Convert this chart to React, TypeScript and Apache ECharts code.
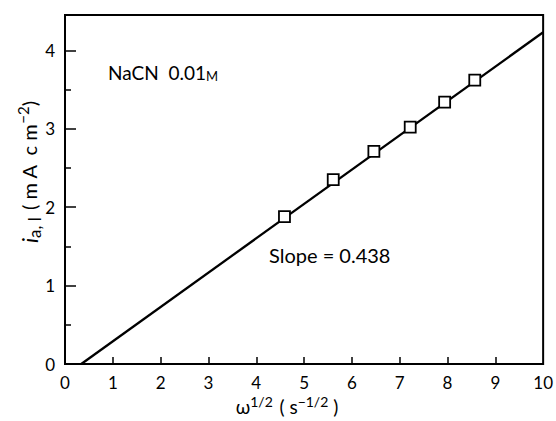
import React, { useEffect, useRef } from "react";
import * as echarts from "echarts";

const xTicks = [0, 1, 2, 3, 4, 5, 6, 7, 8, 9, 10];
const yTicks = [0, 1, 2, 3, 4];
const yHalfTicks = [0.5, 1.5, 2.5, 3.5];
const pointsX = [4.59, 5.61, 6.46, 7.22, 7.94, 8.57];
const pointsY = [1.88, 2.35, 2.71, 3.02, 3.34, 3.62];
const fitLineX = [0.34, 10];
const fitLineY = [0, 4.23];

const FONT = "Lato";

export default function App() {
  const ref = useRef<HTMLDivElement>(null);
  useEffect(() => {
    if (!ref.current) return;
    const chart = echarts.init(ref.current, null, { renderer: "svg" });
    const grid = { left: 65, right: 10, top: 15, bottom: 57, show: true, borderColor: "#000", borderWidth: 2, backgroundColor: "transparent" };
    chart.setOption({
      animation: false,
      backgroundColor: "#fff",
      textStyle: { fontFamily: FONT },
      grid,
      xAxis: {
        type: "value",
        min: 0,
        max: 10,
        interval: 1,
        splitLine: { show: false },
        axisLine: { lineStyle: { color: "#000", width: 2 } },
        axisTick: { inside: true, length: 7, lineStyle: { color: "#000", width: 1.5 }, customValues: xTicks.slice(1, -1) },
        axisLabel: { color: "#000", fontSize: 17, margin: 10, fontFamily: FONT, customValues: xTicks },
      },
      yAxis: [
        {
          type: "value",
          min: 0,
          max: 4.45,
          interval: 1,
          splitLine: { show: false },
          axisLine: { lineStyle: { color: "#000", width: 2 } },
          axisTick: { inside: true, length: 11, lineStyle: { color: "#000", width: 1.5 }, customValues: yTicks.slice(1) },
          axisLabel: { color: "#000", fontSize: 17, margin: 10, fontFamily: FONT, customValues: yTicks },
        },
        {
          type: "value",
          min: 0,
          max: 4.45,
          position: "left",
          splitLine: { show: false },
          axisLine: { show: false },
          axisTick: { inside: true, length: 6, lineStyle: { color: "#000", width: 1.5 }, customValues: yHalfTicks },
          axisLabel: { show: false },
        },
      ],
      series: [
        {
          type: "line",
          data: fitLineX.map((x, i) => [x, fitLineY[i]]),
          showSymbol: false,
          lineStyle: { color: "#000", width: 2.3 },
          z: 2,
        },
        {
          type: "scatter",
          data: pointsX.map((x, i) => [x, pointsY[i]]),
          symbol: "rect",
          symbolSize: 11,
          itemStyle: { color: "#fff", borderColor: "#000", borderWidth: 1.8, opacity: 1 },
          emphasis: { disabled: true },
          z: 3,
        },
      ],
      graphic: [
        {
          type: "text",
          left: 108,
          top: 63,
          style: {
            text: "NaCN  0.01{sc|M}",
            fontSize: 19,
            fontFamily: FONT,
            fill: "#000",
            rich: { sc: { fontSize: 13, fontFamily: FONT, fill: "#000", verticalAlign: "bottom" } },
          },
        },
        {
          type: "text",
          left: 269,
          top: 245,
          style: { text: "Slope = 0.438", fontSize: 20, fontFamily: FONT, fill: "#000" },
        },
        {
          type: "text",
          x: 287,
          y: 405,
          style: {
            text: "{b|ω}{s|1/2}  {b|( s}{s|−1/2}{b| )}",
            align: "center",
            verticalAlign: "middle",
            fill: "#000",
            rich: {
              b: { fontSize: 19, fontFamily: FONT, fill: "#000", verticalAlign: "bottom", lineHeight: 22 },
              s: { fontSize: 14, fontFamily: FONT, fill: "#000", verticalAlign: "top", lineHeight: 22 },
            },
          },
        },
        {
          type: "text",
          x: 29,
          y: 172,
          rotation: Math.PI / 2,
          style: {
            text: "{i|i}{sub|a, l}  {b|( m A  c m}{s|−2}{b|)}",
            align: "center",
            verticalAlign: "middle",
            fill: "#000",
            rich: {
              i: { fontSize: 22, fontStyle: "italic", fontFamily: FONT, fill: "#000", verticalAlign: "middle", lineHeight: 28 },
              sub: { fontSize: 17, fontFamily: FONT, fill: "#000", verticalAlign: "bottom", lineHeight: 28 },
              b: { fontSize: 20, fontFamily: FONT, fill: "#000", verticalAlign: "middle", lineHeight: 28 },
              s: { fontSize: 15, fontFamily: FONT, fill: "#000", verticalAlign: "top", lineHeight: 28 },
            },
          },
        },
      ],
    });
    return () => chart.dispose();
  }, []);
  return <div ref={ref} style={{ width: 556, height: 421, position: "absolute", left: 0, top: 0 }} />;
}
